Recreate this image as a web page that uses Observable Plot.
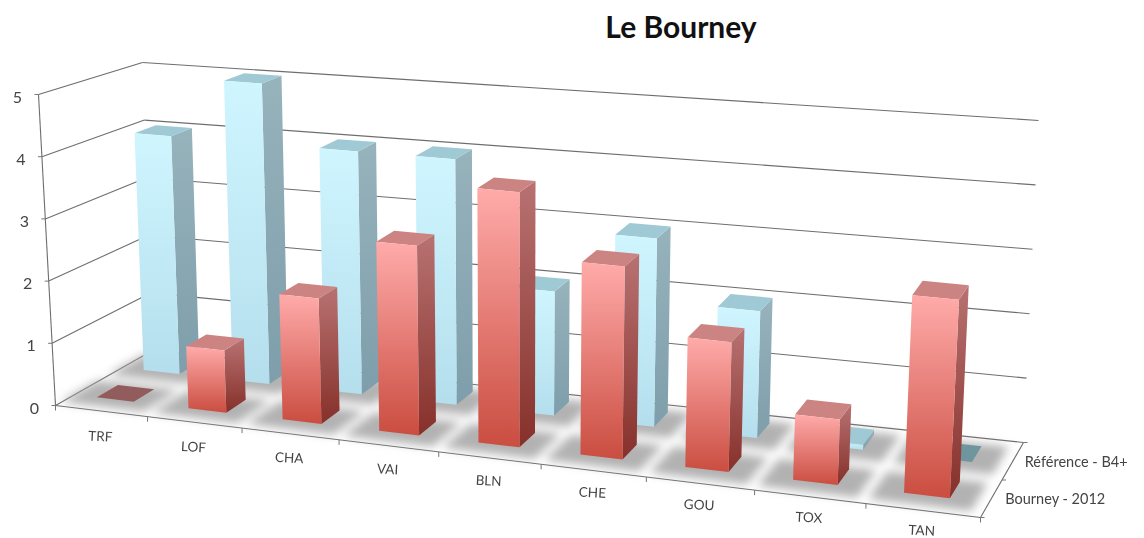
<!DOCTYPE html>
<html><head><meta charset="utf-8">
<script src="https://cdn.jsdelivr.net/npm/d3@7"></script>
<script src="https://cdn.jsdelivr.net/npm/@observablehq/plot@0.6"></script>
<style>
html,body{margin:0;padding:0;background:#fff;overflow:hidden}
#wrap{position:relative;width:1144px;height:538px}
#title{position:absolute;left:0;top:8px;width:1362px;text-align:center;font:700 30px Lato,"Open Sans",sans-serif;color:#111}
svg{display:block;filter:blur(.5px)}
</style></head><body><div id="wrap"><div id="title">Le Bourney</div></div>
<script>
const categories = ["TRF","LOF","CHA","VAI","BLN","CHE","GOU","TOX","TAN"];
const bourney2012 = [0,1,2,3,4,3,2,1,3];
const referenceB4 = [4,5,4,4,2,3,2,0.08,0];
const seriesNames = ["Bourney - 2012","Référence - B4+"];
const levels = [0,1,2,3,4,5];
const maxValue = 5;

// the chart's 3D box as it appears on the page: floor corners and the height vector at each
const A=[55,405],B=[980,517],C=[1023,442],D=[152,350];
const hA=[-17,-311],hB=[17,-334],hC=[15,-322],hD=[-10,-288];
const persp=1.131;
const lerp=(p,q,t)=>[p[0]+(q[0]-p[0])*t,p[1]+(q[1]-p[1])*t];
const warp=u=>u/(u+(1-u)*persp);
function floorAt(u,v){const s=warp(u);return lerp(lerp(A,B,s),lerp(D,C,s),v);}
function P(u,v,val){
  const s=warp(u),f=floorAt(u,v),h=lerp(lerp(hA,hB,s),lerp(hD,hC,s),v),k=val/maxValue;
  return [f[0]+h[0]*k,f[1]+h[1]*k];
}
const seg=(a,b)=>({x1:a[0],y1:a[1],x2:b[0],y2:b[1]});
function quad(a,b,c,d){ // a-b upper edge, d-c lower edge
  return [{x1:a[0],y1:a[1],x2:d[0],y2:d[1]},{x1:b[0],y1:b[1],x2:c[0],y2:c[1]}];
}
const areaOpts=fill=>({x1:"x1",y1:"y1",x2:"x2",y2:"y2",fill,stroke:"none"});

const n=categories.length;
const segs=[];
for(const l of levels){
  segs.push(seg(P(0,0,l),P(0,1,l)));
  segs.push(seg(P(0,1,l),P(1,1,l)));
}
segs.push(seg(P(0,0,0),P(1,0,0)),seg(P(1,0,0),P(1,1,0)),seg(P(0,0,0),P(0,0,maxValue)));
const ticks=[];
for(let i=0;i<=n;i++){const p=P(i/n,0,0);ticks.push(seg(p,[p[0],p[1]+5]));}
for(const v of [0,.5,1]){const p=P(1,v,0);ticks.push(seg(p,[p[0]+4,p[1]]));}
for(const l of levels){const p=P(0,0,l);ticks.push(seg(p,[p[0]-4,p[1]]));}

const rows=[
 {name:seriesNames[1],vals:referenceB4,v0:.68,v1:.89,front:"url(#bf)",side:"url(#bs)",top:"#9fc9d4",flat:"#6f959f"},
 {name:seriesNames[0],vals:bourney2012,v0:.19,v1:.41,front:"url(#rf)",side:"url(#rs)",top:"#cc8482",flat:"#935c5c"}
];
const U0=.26,U1=.665;
const shadows=[];
rows.forEach(r=>categories.forEach((c,i)=>{
  const a=(i+.0)/n,b=(i+.9)/n;
  const vs=r.v0-.13,ve=r.v1+.03;
  const q=quad(floorAt(a,ve),floorAt(b,ve),floorAt(b,vs),floorAt(a,vs));
  q.forEach(d=>{d.id=r.name+c;shadows.push(d);});
}));

const barMarks=[];
for(const r of rows){
  r.vals.forEach((val,i)=>{
    const a=(i+U0)/n,b=(i+U1)/n,v0=r.v0,v1=r.v1;
    if(val>0){
      barMarks.push(Plot.area(quad(P(b,v0,val),P(b,v1,val),P(b,v1,0),P(b,v0,0)),areaOpts(r.side)));
      barMarks.push(Plot.area(quad(P(a,v1,val),P(b,v1,val),P(b,v0,val),P(a,v0,val)),areaOpts(r.top)));
      barMarks.push(Plot.area(quad(P(a,v0,val),P(b,v0,val),P(b,v0,0),P(a,v0,0)),areaOpts(r.front)));
    } else {
      barMarks.push(Plot.area(quad(P(a,v1,0),P(b,v1,0),P(b,v0,0),P(a,v0,0)),areaOpts(r.flat)));
    }
  });
}

const catLabels=categories.map((c,i)=>{const u=(i+.5)/n,p=P(u,0,0);return {t:c,x:p[0]-1,y:p[1]+26-6*u};});
const yLabels=levels.map(l=>{const p=P(0,0,l);return {t:String(l),x:p[0]-21,y:p[1]+3};});
const serLabels=[.25,.75].map((v,i)=>{const p=P(1,v,0);return {t:seriesNames[i],x:p[0]+14-2*i,y:p[1]+1};});

function defs(){
  const g=[["rf","#ffabaa","#ca4d40"],["rs","#b87272","#86302a"],["bf","#cff6ff","#b5deed"],["bs","#97b3bc","#7e9eab"]];
  const d=d3.create("svg:defs");
  for(const [id,c0,c1] of g){
    const lg=d.append("linearGradient").attr("id",id).attr("x1",0).attr("x2",0).attr("y1",0).attr("y2",1);
    lg.append("stop").attr("offset","0%").attr("stop-color",c0);
    lg.append("stop").attr("offset","100%").attr("stop-color",c1);
  }
  return d.node();
}

const chart=Plot.plot({
  width:1144,height:538,margin:0,
  style:{background:"transparent"},
  x:{domain:[0,1144],range:[0,1144],axis:null},
  y:{domain:[0,538],range:[0,538],axis:null},
  marks:[
    defs,
    Plot.link(segs,{x1:"x1",y1:"y1",x2:"x2",y2:"y2",stroke:"#6e6e6e",strokeWidth:1.1}),
    Plot.link(ticks,{x1:"x1",y1:"y1",x2:"x2",y2:"y2",stroke:"#777",strokeWidth:1}),
    Plot.area(shadows,{x1:"x1",y1:"y1",x2:"x2",y2:"y2",z:"id",fill:"#a4a4a4",fillOpacity:.85,imageFilter:"blur(5px)"}),
    ...barMarks,
    Plot.text(catLabels,{x:"x",y:"y",text:"t",rotate:3,fontSize:13.5,fill:"#444",fontFamily:"Lato, 'Open Sans', sans-serif"}),
    Plot.text(yLabels,{x:"x",y:"y",text:"t",fontSize:16,fill:"#444",fontFamily:"Lato, 'Open Sans', sans-serif"}),
    Plot.text(serLabels,{x:"x",y:"y",text:"t",textAnchor:"start",fontSize:14.5,fill:"#444",fontFamily:"Lato, 'Open Sans', sans-serif"})
  ]
});
document.getElementById("wrap").appendChild(chart);
</script></body></html>
